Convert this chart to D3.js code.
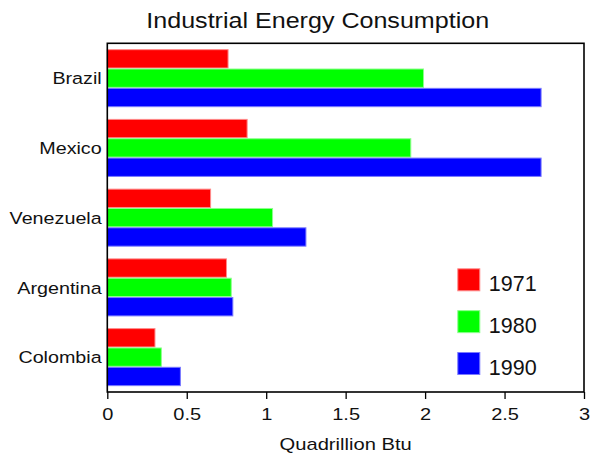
<!DOCTYPE html>
<html>
<head>
<meta charset="utf-8">
<script src="https://cdn.jsdelivr.net/npm/d3@7"></script>
<style>
  html, body { margin: 0; padding: 0; background: #fff; }
  svg { display: block; font-family: "Liberation Sans", Arial, sans-serif; }
</style>
</head>
<body>
<svg id="chart" width="590" height="455"></svg>
<script>
const categories = ["Brazil", "Mexico", "Venezuela", "Argentina", "Colombia"];
const years = ["1971", "1980", "1990"];
const v1971 = [0.76, 0.88, 0.65, 0.75, 0.30];
const v1980 = [1.99, 1.91, 1.04, 0.78, 0.34];
const v1990 = [2.73, 2.73, 1.25, 0.79, 0.46];
const xTicks = [0, 0.5, 1, 1.5, 2, 2.5, 3];
const xTickLabels = ["0", "0.5", "1", "1.5", "2", "2.5", "3"];
const chartTitle = "Industrial Energy Consumption";
const xTitle = "Quadrillion Btu";

const colors = { "1971": "#ff0000", "1980": "#00ff00", "1990": "#0000ff" };
const strokes = { "1971": "#ff8a8a", "1980": "#8cff8c", "1990": "#7a7aff" };

const series = { "1971": v1971, "1980": v1980, "1990": v1990 };
const rows = categories.map((c, i) => ({ cat: c, vals: years.map(y => ({ year: y, value: series[y][i] })) }));

const svg = d3.select("#chart");
const pL = 107.3, pR = 584, pT = 43.3, pB = 392;

const x = d3.scaleLinear().domain([0, 3]).range([pL, pR]);
const y = d3.scaleBand().domain(categories).range([pT, pB]).paddingInner(0.168).paddingOuter(0.084);
const yi = d3.scaleBand().domain(years).range([0, y.bandwidth()]).padding(0);

// title
svg.append("text")
  .attr("transform", `translate(317.7,27.7) scale(1.14,1)`)
  .attr("text-anchor", "middle")
  .attr("font-size", 22)
  .attr("fill", "#111")
  .text(chartTitle);

// bars
const groups = svg.append("g").selectAll("g.cat").data(rows).join("g")
  .attr("class", "cat")
  .attr("transform", d => `translate(0,${y(d.cat)})`);
groups.selectAll("rect").data(d => d.vals).join("rect")
  .attr("x", x(0))
  .attr("y", d => yi(d.year) + 0.5)
  .attr("width", d => x(d.value) - x(0))
  .attr("height", yi.bandwidth() - 1)
  .attr("fill", d => colors[d.year])
  .attr("stroke", d => strokes[d.year])
  .attr("stroke-width", 1);

// category labels
svg.selectAll("text.catlabel").data(categories).join("text")
  .attr("class", "catlabel")
  .attr("transform", d => `translate(101.7,${y(d) + y.bandwidth() / 2}) scale(1.14,1)`)
  .attr("text-anchor", "end")
  .attr("dy", "0.36em")
  .attr("font-size", 17.3)
  .attr("fill", "#111")
  .text(d => d);

// x axis
const xAxis = d3.axisBottom(x).tickValues(xTicks)
  .tickFormat((d, i) => xTickLabels[i]).tickSize(7).tickPadding(10);
const ax = svg.append("g").attr("transform", `translate(0,${pB})`).call(xAxis);
ax.select(".domain").remove();
ax.selectAll(".tick line").attr("stroke", "#000").attr("stroke-width", 1.3);
ax.selectAll(".tick text")
  .attr("font-size", 16)
  .attr("font-family", "Liberation Sans, Arial, sans-serif")
  .attr("fill", "#111")
  .attr("transform", "scale(1.25,1)");

// frame
svg.append("rect")
  .attr("x", pL).attr("y", pT)
  .attr("width", pR - pL).attr("height", pB - pT)
  .attr("fill", "none").attr("stroke", "#000").attr("stroke-width", 1.6);

// x title
svg.append("text")
  .attr("transform", `translate(${(pL + pR) / 2},450) scale(1.26,1)`)
  .attr("text-anchor", "middle")
  .attr("font-size", 16)
  .attr("fill", "#111")
  .text(xTitle);

// legend
const legY = d3.scalePoint().domain(years).range([268.3, 352]);
const leg = svg.append("g").selectAll("g").data(years).join("g")
  .attr("transform", d => `translate(457.3,${legY(d)})`);
leg.append("rect")
  .attr("x", 0.5).attr("y", 0.5)
  .attr("width", 22).attr("height", 22)
  .attr("fill", d => colors[d])
  .attr("stroke", d => strokes[d]).attr("stroke-width", 1);
leg.append("text")
  .attr("x", 31.5).attr("y", 22.5)
  .attr("font-size", 21.5)
  .attr("fill", "#111")
  .text(d => d);
</script>
</body>
</html>
